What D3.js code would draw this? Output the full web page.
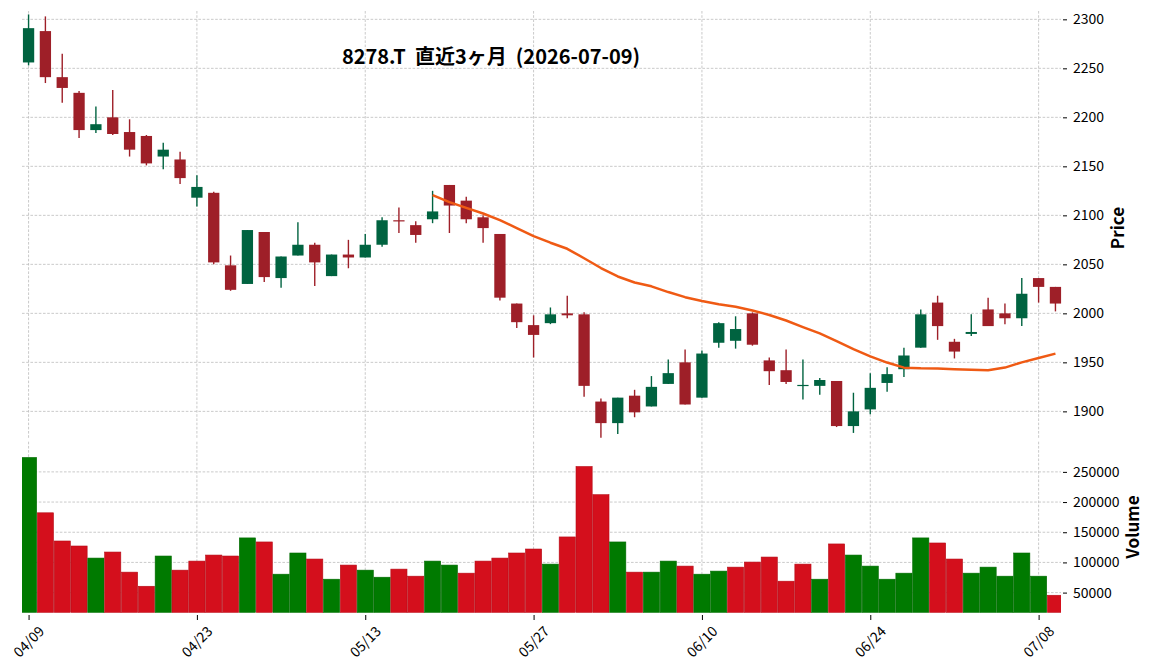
<!DOCTYPE html>
<html>
<head>
<meta charset="utf-8" />
<title>8278.T</title>
<style>
html, body {
    margin: 0px;
    padding: 0px;
    background: #fff;
}
svg {
    display: block;
    font-family: "Noto Sans CJK JP", "Noto Sans", sans-serif;
}
</style>
</head>
<body>
<svg id="chart" width="1152" height="670"></svg>

<script src="https://d3js.org/d3.v7.min.js"></script>
<script>
var dates = ["04/09","04/10","04/13","04/14","04/15","04/16","04/17","04/20","04/21","04/22",
    "04/23","04/24","04/27","04/28","04/30","05/01","05/07","05/08","05/11","05/12",
    "05/13","05/14","05/15","05/18","05/19","05/20","05/21","05/22","05/25","05/26",
    "05/27","05/28","05/29","06/01","06/02","06/03","06/04","06/05","06/08","06/09",
    "06/10","06/11","06/12","06/15","06/16","06/17","06/18","06/19","06/22","06/23",
    "06/24","06/25","06/26","06/29","06/30","07/01","07/02","07/03","07/06","07/07",
    "07/08","07/09"]

var open  = [2256,2288,2241,2225,2187,2200,2185,2181,2160,2157,
    2118,2123,2049,2030,2083,2036,2059,2070,2038,2060,
    2057,2070,2095,2090,2096,2131,2115,2098,2081,2010,
    1988,1990,2000,1999,1910,1888,1916,1905,1928,1950,
    1914,1970,1972,2000,1952,1942,1926,1926,1931,1885,
    1902,1929,1943,1965,2011,1971,1979,2004,2000,1995,
    2036,2027]
var high  = [2305,2303,2265,2227,2211,2228,2198,2182,2174,2165,
    2141,2124,2059,2085,2083,2058,2093,2072,2060,2075,
    2081,2098,2108,2094,2125,2131,2119,2100,2081,2010,
    1998,2006,2018,2001,1913,1914,1922,1936,1953,1963,
    1962,1991,1997,2001,1955,1963,1953,1934,1931,1919,
    1939,1945,1965,2004,2018,1974,1999,2016,2010,2036,
    2036,2027]
var low   = [2253,2235,2215,2179,2184,2182,2160,2151,2147,2132,
    2109,2050,2023,2030,2032,2026,2059,2028,2038,2046,
    2057,2068,2082,2072,2092,2082,2092,2072,2013,1985,
    1955,1989,1995,1915,1873,1877,1894,1905,1928,1907,
    1914,1965,1964,1967,1927,1928,1912,1917,1884,1878,
    1897,1920,1935,1965,1973,1954,1977,1987,1989,1987,
    2011,2002]
var close = [2291,2241,2230,2187,2193,2183,2167,2153,2167,2138,
    2129,2052,2024,2085,2037,2058,2070,2052,2060,2057,
    2070,2095,2094,2080,2104,2110,2096,2087,2016,1991,
    1978,1999,1998,1926,1888,1914,1899,1925,1939,1907,
    1959,1990,1984,1968,1941,1930,1927,1932,1885,1900,
    1924,1938,1957,1999,1987,1961,1981,1987,1995,2020,
    2027,2010]
var volume = [273900,182200,135500,127200,107200,117200,83900,60500,110600,87200,
    102200,112200,110600,140600,133900,80500,115600,105600,72200,95600,
    87200,75500,88900,77200,102200,95600,82200,102200,107200,115600,
    122200,97200,142200,258900,212200,133900,83900,83900,102200,93900,
    80500,85600,92200,100600,108900,68900,97200,72200,130600,112200,
    93900,72200,82200,140600,132200,105600,82200,92200,77200,115600,
    77200,45600]

var priceTicks = [1900,1950,2000,2050,2100,2150,2200,2250,2300]
var volumeTicks = [50000,100000,150000,200000,250000]
var xTicks = [0,10,20,30,40,50,60]
var maPeriod = 25
var title = "8278.T  直近3ヶ月  (2026-07-09)"

var upCandle = "#006340", downCandle = "#9e1f28"
var upVol = "#007a00", downVol = "#d40f1c"
var gridColor = "#bdbdbd"

var svg = d3.select("#chart")
var left = 22, right = 1061

var x = d3.scaleLinear().domain([-0.39, 61.33]).range([left, right])
var yP = d3.scaleLinear().domain([1871.8, 2308.5]).range([439, 11])
var yV = d3.scaleLinear().domain([16700, 300000]).range([612.7, 441.7])

drawGrid(yP, priceTicks, 11, 439)
drawGrid(yV, volumeTicks, 441.7, 612.7)

function drawGrid(yScale, ticks, top, bottom) {
    var g = svg.append("g")
        .attr("stroke", gridColor)
        .attr("stroke-width", 0.8)
        .attr("stroke-dasharray", "2.6,1.6")
    g.selectAll(".h").data(ticks).enter().append("line")
        .attr("x1", left).attr("x2", right)
        .attr("y1", d => yScale(d)).attr("y2", d => yScale(d))
    g.selectAll(".v").data(xTicks).enter().append("line")
        .attr("x1", d => x(d)).attr("x2", d => x(d))
        .attr("y1", top).attr("y2", bottom)
}

var idx = d3.range(close.length)
var cw = 0.67 * (x(1) - x(0))
var vw = 0.96 * (x(1) - x(0))

// volume bars, colour from close vs previous close
svg.append("clipPath").attr("id", "vclip").append("rect")
    .attr("x", left).attr("y", 441.7).attr("width", right - left).attr("height", 171)

svg.append("g").attr("clip-path", "url(#vclip)")
    .selectAll("rect").data(idx).enter().append("rect")
    .attr("x", i => x(i) - vw / 2)
    .attr("width", vw)
    .attr("y", i => yV(volume[i]))
    .attr("height", i => yV(16700) - yV(volume[i]))
    .attr("fill", i => volUp(i) ? upVol : downVol)
    .attr("stroke", i => volUp(i) ? "#006a00" : "#b50c17")
    .attr("stroke-width", 0.6)

function volUp(i) {
    return i == 0 ? close[i] >= open[i] : close[i] >= close[i - 1]
}

// candles
var cg = svg.append("g")
cg.selectAll("line").data(idx).enter().append("line")
    .attr("x1", i => x(i)).attr("x2", i => x(i))
    .attr("y1", i => yP(high[i])).attr("y2", i => yP(low[i]))
    .attr("stroke", i => close[i] >= open[i] ? upCandle : downCandle)
    .attr("stroke-width", 1.4)
cg.selectAll("rect").data(idx).enter().append("rect")
    .attr("x", i => x(i) - cw / 2)
    .attr("width", cw)
    .attr("y", i => yP(Math.max(open[i], close[i])))
    .attr("height", i => Math.max(1.2, Math.abs(yP(open[i]) - yP(close[i]))))
    .attr("fill", i => close[i] >= open[i] ? upCandle : downCandle)

// moving average
var ma = []
for (var i = maPeriod - 1; i < close.length; i++) {
    ma.push([i, d3.mean(close.slice(i - maPeriod + 1, i + 1))])
}
svg.append("path")
    .datum(ma)
    .attr("fill", "none")
    .attr("stroke", "#ef5a14")
    .attr("stroke-width", 2.5)
    .attr("stroke-linejoin", "round")
    .attr("d", d3.line().x(d => x(d[0])).y(d => yP(d[1])))

// axes
var pAxis = d3.axisRight(yP).tickValues(priceTicks).tickSize(4).tickPadding(6).tickFormat(d3.format("d"))
svg.append("g").attr("transform", "translate(" + (right + 2) + ",0)").call(pAxis)
var vAxis = d3.axisRight(yV).tickValues(volumeTicks).tickSize(4).tickPadding(6).tickFormat(d3.format("d"))
svg.append("g").attr("transform", "translate(" + (right + 2) + ",0)").call(vAxis)

var xAxis = d3.axisBottom(x).tickValues(xTicks).tickSize(5).tickFormat(i => dates[i])
var xg = svg.append("g").attr("transform", "translate(0,615)").call(xAxis)
xg.selectAll("text")
    .attr("y", 0).attr("dy", 0)
    .attr("text-anchor", "middle")
    .attr("dominant-baseline", "central")
    .attr("transform", "translate(-1,26) rotate(-45)")

svg.selectAll(".domain").remove()
svg.selectAll(".tick text")
    .attr("font-family", "Noto Sans CJK JP")
    .attr("font-size", 14)
    .attr("fill", "#000")
svg.selectAll(".tick line").attr("stroke", "#000").attr("stroke-width", 1)

svg.append("text")
    .attr("x", 491).attr("y", 64)
    .attr("text-anchor", "middle")
    .attr("font-size", 20)
    .attr("font-weight", "bold")
    .style("white-space", "pre")
    .text(title)

svg.append("text")
    .attr("transform", "translate(1124,228) rotate(-90)")
    .attr("text-anchor", "middle")
    .attr("font-size", 17)
    .attr("font-weight", "bold")
    .text("Price")

svg.append("text")
    .attr("transform", "translate(1139,527) rotate(-90)")
    .attr("text-anchor", "middle")
    .attr("font-size", 17)
    .attr("font-weight", "bold")
    .text("Volume")
</script>
</body>
</html>
